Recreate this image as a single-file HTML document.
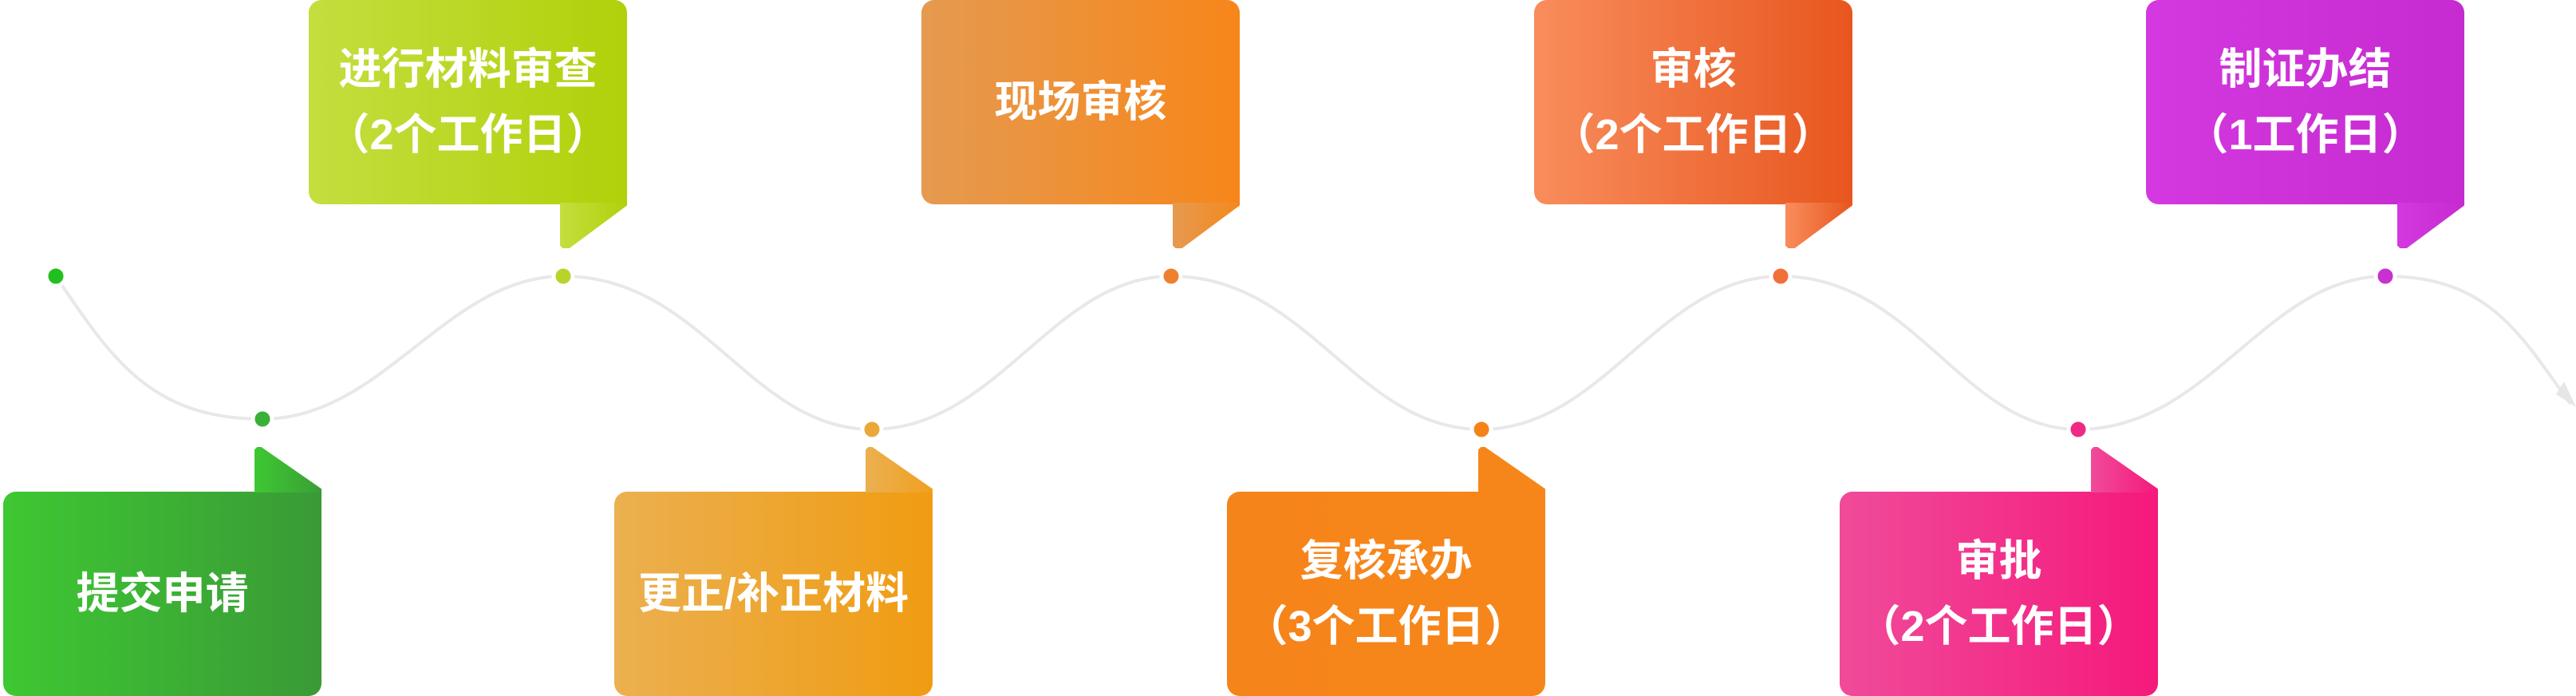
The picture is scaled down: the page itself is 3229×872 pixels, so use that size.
<!DOCTYPE html>
<html><head><meta charset="utf-8"><style>
html,body{margin:0;padding:0;background:#fff;}
body{width:3229px;height:872px;position:relative;overflow:hidden;font-family:"Liberation Sans","Noto Sans CJK SC",sans-serif;}
.b{position:absolute;width:399px;color:#fff;font-weight:bold;font-size:54px;display:flex;flex-direction:column;justify-content:center;align-items:center;line-height:82px;}
.t{top:0;height:256px;border-radius:16px 16px 0 16px;}
.d{top:616px;height:256px;border-radius:16px 0 16px 16px;}
.tab{position:absolute;width:84px;height:57px;}
.tt{top:254px;clip-path:polygon(0 0,100% 0,100% 6%,14% 100%,4% 100%,0 94%);}
.td{top:560px;clip-path:polygon(0 6%,4% 0,10% 0,100% 92%,100% 100%,0 100%);}
svg{position:absolute;left:0;top:0;}
</style></head><body>
<svg width="3229" height="872">
<path d="M70,346 C140,450 190,525 329,525 C480,525 560,346 706,346 C880,346 940,538 1093,538 C1250,538 1320,346 1468,346 C1640,346 1700,538 1857,538 C2010,538 2080,346 2232,346 C2400,346 2460,538 2605,538 C2770,538 2840,346 2990,346 C3120,346 3160,420 3222,506" fill="none" stroke="#e8e8e8" stroke-width="4"/>
<path d="M3204,494 L3229,510 L3214,478 Z" fill="#e6e6e6"/>
<g stroke="#fff" stroke-width="5">
<circle cx="70" cy="346" r="12" fill="#22c01e"/>
<circle cx="329" cy="525" r="12" fill="#3ab03a"/>
<circle cx="706" cy="346" r="12" fill="#b8d42a"/>
<circle cx="1093" cy="538" r="12" fill="#eba83a"/>
<circle cx="1468" cy="346" r="12" fill="#ee8030"/>
<circle cx="1857" cy="538" r="12" fill="#f58418"/>
<circle cx="2232" cy="346" r="12" fill="#f07038"/>
<circle cx="2605" cy="538" r="12" fill="#ee2a84"/>
<circle cx="2990" cy="346" r="12" fill="#c830d0"/>
</g>
</svg>

<div class="b d" style="left:4px;background:linear-gradient(90deg,#3ec832,#3a9a36)">提交申请</div>
<div class="tab td" style="left:319px;background:linear-gradient(90deg,#3ec832,#3a9e36)"></div>

<div class="b t" style="left:387px;background:linear-gradient(90deg,#c4de3f,#b0d10a)"><div>进行材料审查</div><div>（2个工作日）</div></div>
<div class="tab tt" style="left:702px;background:linear-gradient(90deg,#c4de3f,#b0d10a)"></div>

<div class="b d" style="left:770px;background:linear-gradient(90deg,#ebb050,#f09c12)">更正/补正材料</div>
<div class="tab td" style="left:1085px;background:linear-gradient(90deg,#ebb050,#f0a020)"></div>

<div class="b t" style="left:1155px;background:linear-gradient(90deg,#e59a50,#f7861a)">现场审核</div>
<div class="tab tt" style="left:1470px;background:linear-gradient(90deg,#e59a50,#f5881c)"></div>

<div class="b d" style="left:1538px;background:linear-gradient(90deg,#f5841a,#f7861a)"><div>复核承办</div><div>（3个工作日）</div></div>
<div class="tab td" style="left:1853px;background:#f7861a"></div>

<div class="b t" style="left:1923px;background:linear-gradient(90deg,#f88d5c,#e8561e)"><div>审核</div><div>（2个工作日）</div></div>
<div class="tab tt" style="left:2238px;background:linear-gradient(90deg,#f88d5c,#e8561e)"></div>

<div class="b d" style="left:2306px;background:linear-gradient(90deg,#f04b9a,#f5197c)"><div>审批</div><div>（2个工作日）</div></div>
<div class="tab td" style="left:2621px;background:linear-gradient(90deg,#f04b9a,#f5197c)"></div>

<div class="b t" style="left:2690px;background:linear-gradient(90deg,#d438e0,#c52bd0)"><div>制证办结</div><div>（1工作日）</div></div>
<div class="tab tt" style="left:3005px;background:linear-gradient(90deg,#d438e0,#c52bd0)"></div>
</body></html>
